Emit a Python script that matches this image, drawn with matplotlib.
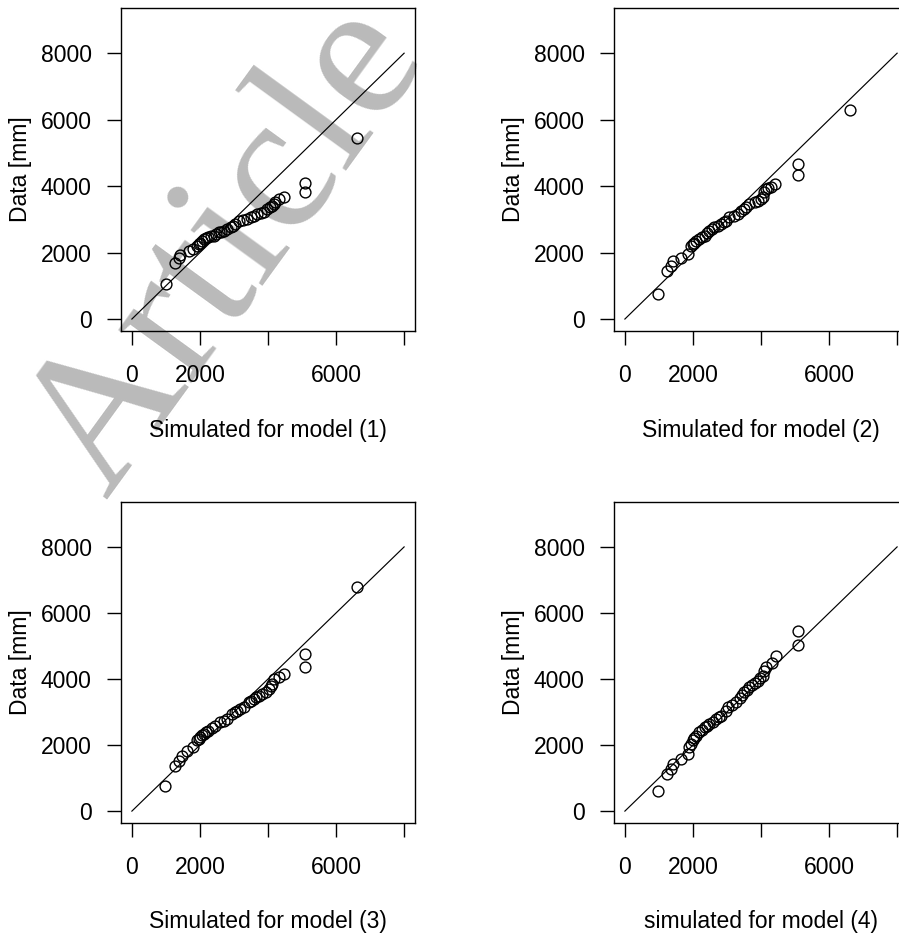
import matplotlib
matplotlib.use("Agg")
import matplotlib.pyplot as plt

plt.rcParams['font.family'] = ['Liberation Sans', 'DejaVu Sans']

# ---- data (mm) ----
x1 = [1000, 1280, 1370, 1420, 1670, 1810, 1910, 1960, 2000, 2060, 2110, 2180, 2250, 2330, 2400, 2470,
      2550, 2620, 2700, 2800, 2900, 2970, 3040, 3140, 3270, 3390, 3490, 3590, 3680, 3780, 3880, 3980,
      4050, 4120, 4170, 4220, 4320, 4470, 5100, 5100, 6620]
y1 = [1040, 1700, 1850, 1930, 2050, 2100, 2200, 2250, 2300, 2350, 2410, 2430, 2460, 2490, 2510, 2560,
      2610, 2630, 2660, 2710, 2760, 2810, 2860, 2960, 2980, 3010, 3060, 3110, 3160, 3190, 3210, 3310,
      3360, 3410, 3470, 3510, 3610, 3660, 3820, 4090, 5450]

x2 = [980, 1250, 1350, 1400, 1650, 1850, 1940, 1990, 2040, 2100, 2190, 2260, 2340, 2410, 2480, 2560,
      2630, 2730, 2830, 2900, 2970, 3070, 3200, 3320, 3410, 3490, 3560, 3660, 3810, 3910, 4000, 4050,
      4100, 4150, 4200, 4300, 4400, 5080, 5080, 6610]
y2 = [760, 1450, 1600, 1750, 1850, 1950, 2200, 2250, 2300, 2360, 2410, 2460, 2510, 2580, 2660, 2710,
      2760, 2810, 2860, 2910, 2960, 3060, 3110, 3160, 3260, 3310, 3360, 3460, 3510, 3560, 3610, 3660,
      3810, 3910, 3940, 3970, 4070, 4320, 4670, 6280]

x3 = [980, 1280, 1370, 1470, 1620, 1810, 1910, 1960, 2010, 2060, 2110, 2180, 2250, 2350, 2450, 2600,
      2700, 2800, 2940, 3020, 3090, 3190, 3290, 3430, 3500, 3580, 3660, 3730, 3830, 3930, 4020, 4080,
      4120, 4170, 4320, 4470, 5100, 5100, 6630]
y3 = [750, 1380, 1530, 1680, 1830, 1930, 2140, 2190, 2240, 2290, 2340, 2390, 2440, 2520, 2590, 2690,
      2740, 2790, 2940, 2990, 3040, 3090, 3140, 3290, 3340, 3390, 3450, 3500, 3550, 3600, 3700, 3780,
      3850, 4000, 4050, 4150, 4350, 4760, 6800]

x4 = [960, 1250, 1350, 1400, 1650, 1850, 1890, 1940, 1990, 2040, 2090, 2190, 2260, 2340, 2410, 2480,
      2580, 2680, 2760, 2830, 2970, 3020, 3150, 3270, 3370, 3440, 3510, 3590, 3660, 3740, 3810, 3910,
      3980, 4050, 4100, 4150, 4330, 4450, 5080, 5080]
y4 = [620, 1130, 1280, 1430, 1580, 1730, 1930, 2040, 2140, 2210, 2280, 2390, 2460, 2540, 2590, 2640,
      2710, 2790, 2840, 2890, 3040, 3140, 3210, 3290, 3440, 3520, 3600, 3680, 3750, 3810, 3870, 3950,
      4020, 4100, 4250, 4350, 4500, 4700, 5030, 5460]

xlabels = ["Simulated for model (1)", "Simulated for model (2)",
           "Simulated for model (3)", "simulated for model (4)"]
ylabel = "Data [mm]"
xticks = [0, 2000, 4000, 6000, 8000]
xticklabels = ["0", "2000", "", "6000", ""]
yticks = [0, 2000, 4000, 6000, 8000]
ref_line = [0, 8000]

W, H = 899, 936
fig = plt.figure(figsize=(W / 100, H / 100), dpi=100)

# watermark
fig.text(228 / W, 1 - 250 / H, "Article", family=['Liberation Serif', 'DejaVu Serif'],
         fontsize=142, color='#bababa', rotation=54, rotation_mode='anchor',
         ha='center', va='center', zorder=-5)

boxes = [(121, 8, 415, 331), (614, 8, 908, 331), (121, 502, 415, 823), (614, 502, 908, 823)]
series = [(x1, y1), (x2, y2), (x3, y3), (x4, y4)]

for (l, t, r, b), (xs, ys), xl in zip(boxes, series, xlabels):
    ax = fig.add_axes([l / W, 1 - b / H, (r - l) / W, (b - t) / H])
    ax.set_facecolor('none')
    ax.plot(ref_line, ref_line, color='black', lw=0.85, zorder=2)
    ax.plot(xs, ys, linestyle='none', marker='o', markersize=7.8, markerfacecolor='none',
            markeredgecolor='black', markeredgewidth=1.0, zorder=3)
    ax.set_xlim(-320, 8320)
    ax.set_ylim(-360, 9360)
    ax.set_xticks(xticks)
    ax.set_xticklabels(xticklabels)
    ax.set_yticks(yticks)
    ax.set_yticklabels([str(v) for v in yticks])
    ax.tick_params(axis='both', labelsize=16.5, length=10, width=1.0, color='black')
    ax.tick_params(axis='x', pad=14)
    ax.tick_params(axis='y', pad=11)
    for s in ax.spines.values():
        s.set_linewidth(1.0)
    ax.set_xlabel(xl, fontsize=16.5)
    ax.xaxis.set_label_coords(0.5, -0.272)
    ax.set_ylabel(ylabel, fontsize=16.5)
    ax.yaxis.set_label_coords(-0.303, 0.5)

fig.savefig("out.png", dpi=100)
